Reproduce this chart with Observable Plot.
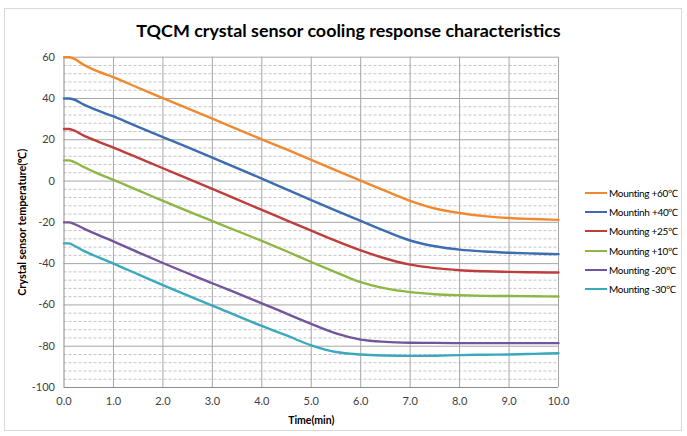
<!DOCTYPE html>
<html><head><meta charset="utf-8">
<script src="https://cdn.jsdelivr.net/npm/d3@7"></script>
<script src="https://cdn.jsdelivr.net/npm/@observablehq/plot@0.6"></script>
<style>
body{margin:0;background:#fff;}
#wrap{position:relative;width:687px;height:436px;font-family:Lato,"Open Sans",sans-serif;overflow:hidden;}
#frame{position:absolute;left:4px;top:8px;width:678px;height:423px;border:1px solid #d9d9d9;box-sizing:border-box;}
#title{position:absolute;left:5px;width:687px;top:19px;text-align:center;font-weight:bold;font-size:17.9px;color:#000;white-space:nowrap;}
#legend{position:absolute;left:585px;top:0;width:100px;height:436px;font-family:Lato,sans-serif;font-size:10px;letter-spacing:-0.3px;color:#000;}
.item{position:absolute;left:0;width:100px;height:20px;display:flex;align-items:center;white-space:nowrap;}
.sw{flex:none;width:22px;height:2px;margin-right:2px;}
#chart{position:absolute;left:0;top:0;}
</style></head>
<body>
<div id="wrap">
  <div id="frame"></div>
  <div id="chart"></div>
  <div id="title">TQCM crystal sensor cooling response characteristics</div>
  <div id="legend"></div>
</div>
<script>
// Data
const times = [0, 0.1, 0.2, 0.4, 0.7, 1, 1.5, 2, 3, 4, 4.5, 5, 5.5, 6, 6.5, 7, 7.5, 8, 8.5, 9, 9.5, 10];
const seriesNames = ["Mounting +60℃", "Mountinh +40℃", "Mounting +25℃", "Mounting +10℃", "Mounting -20℃", "Mounting -30℃"];
const seriesColors = ["#F0892E", "#3D6DB0", "#BE3E3B", "#8DB645", "#72559A", "#3BA8BE"];
const mount60 = [60, 60, 59.3, 56.3, 53, 50.3, 45.2, 40.2, 30.2, 20.2, 15.3, 10.3, 5.2, 0.2, -4.8, -9.6, -13.3, -15.5, -17, -17.9, -18.4, -18.8];
const mount40 = [40, 40, 39.5, 37, 34, 31.3, 26.3, 21.3, 11.4, 1.2, -4, -9.2, -14.3, -19.3, -24.3, -28.8, -31.6, -33.2, -34.1, -34.7, -35.1, -35.4];
const mount25 = [25.2, 25.2, 24.5, 22, 19, 16.2, 11.2, 6.2, -3.8, -14, -19, -24, -29, -33.6, -37.5, -40.5, -42.2, -43.2, -43.7, -44, -44.2, -44.3];
const mount10 = [10, 10, 9.3, 6.8, 3.5, 0.6, -4.5, -9.6, -19.4, -29, -34, -39.2, -44.2, -49, -52, -53.8, -54.8, -55.3, -55.6, -55.7, -55.8, -55.9];
const mountM20 = [-20, -20, -20.7, -23, -26.2, -29.2, -34.5, -39.7, -49.5, -59.2, -64.2, -69.2, -73.8, -76.8, -77.9, -78.3, -78.4, -78.5, -78.5, -78.5, -78.5, -78.5];
const mountM30 = [-30.2, -30.2, -31.2, -33.8, -37, -40, -45.2, -50.4, -60.3, -70.2, -74.8, -79.6, -82.8, -84, -84.5, -84.7, -84.6, -84.3, -84.1, -84, -83.7, -83.4];
const xTicks = [0, 1, 2, 3, 4, 5, 6, 7, 8, 9, 10];
const yTicks = [-100, -80, -60, -40, -20, 0, 20, 40, 60];
const xTitle = "Time(min)";
const yTitle = "Crystal sensor temperature(℃)";

const allSeries = [mount60, mount40, mount25, mount10, mountM20, mountM30];
const rows = [];
allSeries.forEach((vals, i) => vals.forEach((v, j) => rows.push({s: seriesNames[i], t: times[j], v})));
const majorY = yTicks.filter(d => d > -100);
const minorY = d3.range(-96, 60, 4).filter(d => d % 20 !== 0);
const gridX = xTicks.filter(d => d > 0);

const chart = Plot.plot({
  width: 687, height: 436,
  marginLeft: 63.5, marginRight: 129, marginTop: 56.7, marginBottom: 49,
  style: {fontFamily: "Lato, 'Open Sans', sans-serif", fontSize: "11px", color: "#404040", background: "transparent", overflow: "visible"},
  x: {domain: [0, 10]},
  y: {domain: [-100, 60]},
  color: {domain: seriesNames, range: seriesColors},
  marks: [
    Plot.ruleY(minorY, {stroke: "#c4c4c4", strokeDasharray: "3,2", strokeWidth: 1}),
    Plot.ruleY(majorY, {stroke: "#a6a6a6", strokeWidth: 1}),
    Plot.ruleX(gridX, {stroke: "#a6a6a6", strokeWidth: 1}),
    Plot.ruleX([0], {stroke: "#8c8c8c", strokeWidth: 1}),
    Plot.ruleY([-100], {stroke: "#8c8c8c", strokeWidth: 1}),
    Plot.line(rows, {x: "t", y: "v", z: "s", stroke: "s", curve: "monotone-x", strokeWidth: 2.4}),
    Plot.axisX({ticks: xTicks, tickFormat: d => d.toFixed(1), tickSize: 0, tickPadding: 10, label: null}),
    Plot.axisY({ticks: yTicks, tickFormat: d => String(d), tickSize: 0, tickPadding: 9, label: null}),
    Plot.text([xTitle], {frameAnchor: "bottom", dy: 33, fontWeight: "bold", fontSize: 10.5, fill: "#000", textAnchor: "middle", lineAnchor: "middle"}),
    Plot.text([yTitle], {frameAnchor: "left", dx: -41, rotate: -90, fontWeight: "bold", fontSize: 10.8, fill: "#000", textAnchor: "middle", lineAnchor: "middle"})
  ]
});
document.getElementById("chart").appendChild(chart);

const legend = document.getElementById("legend");
seriesNames.forEach((n, i) => {
  const it = document.createElement("div");
  it.className = "item";
  it.style.top = (Math.round(193 + i * 19.2) - 10) + "px";
  it.innerHTML = `<span class="sw" style="background:${seriesColors[i]}"></span><span>${n}</span>`;
  legend.appendChild(it);
});
</script>
</body></html>
